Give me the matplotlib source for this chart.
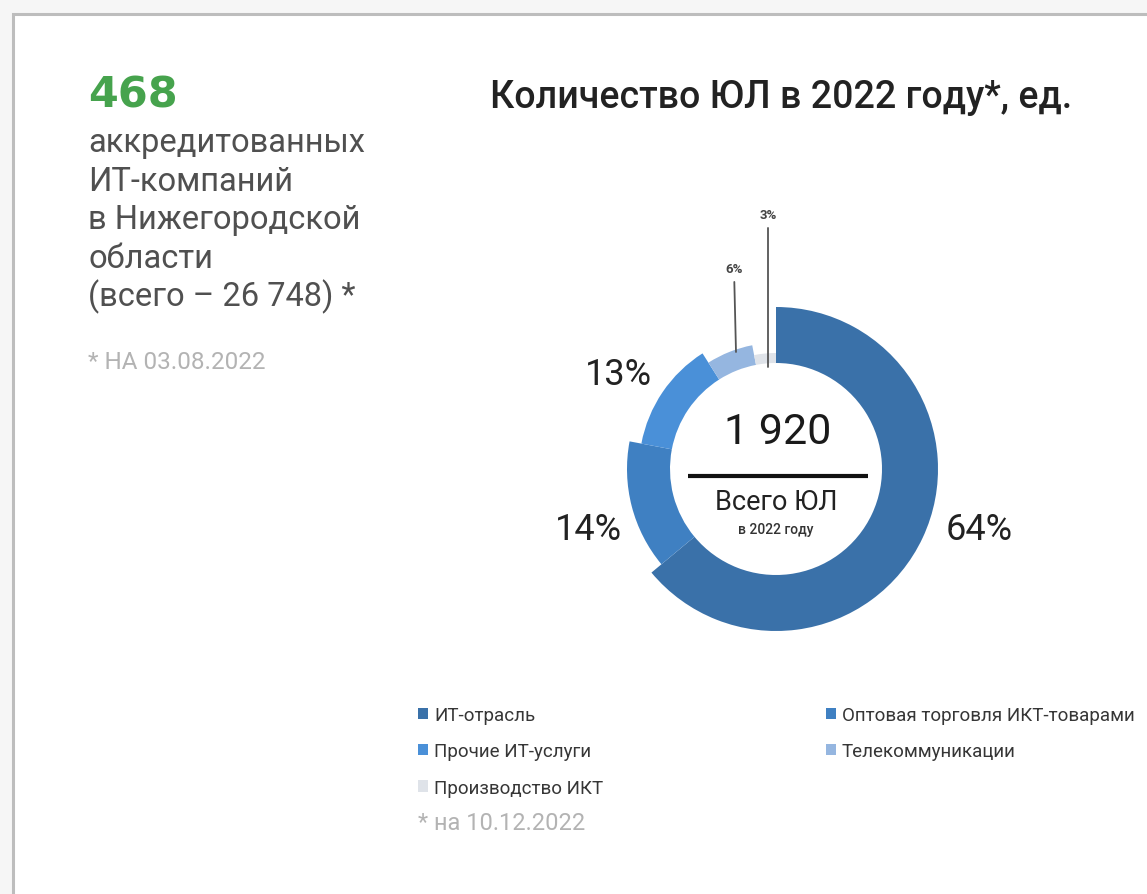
import matplotlib
matplotlib.use("Agg")
import matplotlib.pyplot as plt
from matplotlib.patches import Rectangle

plt.rcParams['font.family'] = ['Roboto', 'DejaVu Sans']

# Legal entities in the ICT sector, 2022
categories = ["ИТ-отрасль", "Оптовая торговля ИКТ-товарами", "Прочие ИТ-услуги",
              "Телекоммуникации", "Производство ИКТ"]
counts = [1228, 269, 250, 115, 58]
colors = ["#3a71a9", "#3f80c2", "#4a90d8", "#95b6e0", "#dfe3e9"]
outer_radius = [0.81, 0.745, 0.685, 0.63, 0.58]
inner_radius = 0.53

accredited = 468
region_total = "26 748"

W, H = 1147, 895
fig = plt.figure(figsize=(W / 100, H / 100), dpi=100)
fig.patch.set_facecolor("#f6f6f6")

# Overlay axes in pixel coordinates for the card and text
bg = fig.add_axes([0, 0, 1, 1])
bg.set_xlim(0, W)
bg.set_ylim(H, 0)
bg.axis("off")
bg.add_patch(Rectangle((13, 15), W + 20, H + 20, facecolor="white",
                       edgecolor="#bdbdbd", linewidth=2.2, zorder=0))

# Left info block
bg.text(88, 107, f"{accredited}", color="#46a34d", fontsize=31,
        fontweight="bold", family="DejaVu Sans", ha="left", va="baseline")
left_lines = ["аккредитованных", "ИТ-компаний", "в Нижегородской", "области",
              f"(всего – {region_total}) *"]
for i, line in enumerate(left_lines):
    bg.text(88, 152 + i * 38.5, line, color="#505050", fontsize=23.5,
            ha="left", va="baseline")
bg.text(88, 369, "* НА 03.08.2022", color="#b3b3b3", fontsize=17.5,
        ha="left", va="baseline")

# Title
bg.text(781, 108, "Количество ЮЛ в 2022 году*, ед.", color="#222222",
        fontsize=27, fontweight="medium", ha="center", va="baseline")

# Donut chart: centre at (776, 470) px, 200 px per unit
cx, cy, half = 776, 470, 300
dax = fig.add_axes([(cx - half) / W, (H - cy - half) / H, 2 * half / W, 2 * half / H])
wedges, _ = dax.pie(counts, colors=colors, startangle=90, counterclock=False,
                    radius=1.0, wedgeprops=dict(width=0.5, linewidth=0))
for w, r in zip(wedges, outer_radius):
    w.set_radius(r)
    w.set_width(r - inner_radius)
dax.set_xlim(-1.5, 1.5)
dax.set_ylim(-1.5, 1.5)
dax.set_aspect("equal")
dax.axis("off")

total = sum(counts)
pcts = [f"{round(c / total * 100)}%" for c in counts]

# Large percentage labels
dax.text(1.015, -0.3, pcts[0], fontsize=26, color="#222222", ha="center", va="center")
dax.text(-0.94, -0.3, pcts[1], fontsize=26, color="#222222", ha="center", va="center")
dax.text(-0.79, 0.475, pcts[2], fontsize=26, color="#222222", ha="center", va="center")

# Small labels with leader lines
dax.annotate(pcts[3], xy=(-0.2, 0.585), xytext=(-0.21, 0.97), fontsize=9.5,
             fontweight="bold", color="#444444", ha="center", va="bottom",
             arrowprops=dict(arrowstyle="-", color="#555555", lw=1.3,
                             shrinkA=3, shrinkB=0))
dax.annotate(pcts[4], xy=(-0.04, 0.51), xytext=(-0.04, 1.24), fontsize=9.5,
             fontweight="bold", color="#444444", ha="center", va="bottom",
             arrowprops=dict(arrowstyle="-", color="#555555", lw=1.3,
                             shrinkA=3, shrinkB=0))

# Centre caption
dax.text(0.01, 0.19, f"{total:,}".replace(",", " "), fontsize=31,
         color="#1a1a1a", ha="center", va="center")
dax.plot([-0.44, 0.46], [-0.035, -0.035], color="#111111", lw=3,
         solid_capstyle="butt")
dax.text(0.0, -0.165, "Всего ЮЛ", fontsize=19.5, color="#222222",
         ha="center", va="center")
dax.text(0.0, -0.3, "в 2022 году", fontsize=10, fontweight="medium",
         color="#333333", ha="center", va="center")

# Legend in two columns
leg_kw = dict(frameon=False, fontsize=13.5, handlelength=0.55, handleheight=0.55,
              handletextpad=0.3, labelspacing=0.98, borderpad=0, borderaxespad=0,
              labelcolor="#363636")
order_left = [0, 2, 4]
order_right = [1, 3]
leg1 = fig.legend([wedges[i] for i in order_left], [categories[i] for i in order_left],
                  loc="upper left", bbox_to_anchor=(418 / W, 1 - 707 / H), **leg_kw)
leg2 = fig.legend([wedges[i] for i in order_right], [categories[i] for i in order_right],
                  loc="upper left", bbox_to_anchor=(826 / W, 1 - 707 / H), **leg_kw)

bg.text(418, 830, "* на 10.12.2022", color="#b3b3b3", fontsize=17,
        ha="left", va="baseline")

fig.savefig("out.png", dpi=100, facecolor=fig.get_facecolor())
